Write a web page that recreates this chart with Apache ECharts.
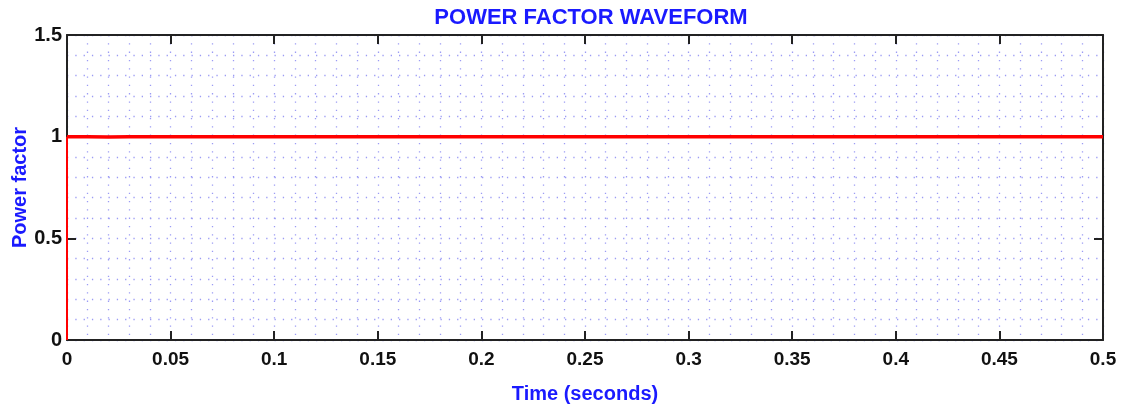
<!DOCTYPE html>
<html><head><meta charset="utf-8">
<script src="https://cdn.jsdelivr.net/npm/echarts@6/dist/echarts.min.js"></script>
<style>html,body{margin:0;padding:0;background:#fff}#c{width:1126px;height:412px}</style>
</head><body><div id="c"></div>
<script>
const titleText = 'POWER FACTOR WAVEFORM';
const xName = 'Time (seconds)';
const yName = 'Power factor';
const timeValues = [0, 0, 0.01, 0.02, 0.03, 0.05, 0.1, 0.2, 0.3, 0.4, 0.5];
const pfValues   = [0, 1, 1.0, 0.998, 1.0, 1.0, 1.0, 1.0, 1.0, 1.0, 1.0];
const xMin = 0, xMax = 0.5, xStep = 0.05;
const yMin = 0, yMax = 1.5, yStep = 0.5;

const gridDot = {color: '#9c9cf4', width: 1.3, type: [1.3, 7]};
const font = {fontFamily: 'Liberation Sans, Arial, sans-serif', fontWeight: 'bold'};
const axisLn = {color: '#222', width: 2};
const chart = echarts.init(document.getElementById('c'));
function fmt(v){ return String(+v.toFixed(2)); }
const pts = timeValues.map((t, i) => [t, pfValues[i]]);
chart.setOption({
  animation: false,
  title: {text: titleText, left: 586, top: 2, textAlign: 'center',
    textStyle: Object.assign({color: '#1a1aff', fontSize: 22, letterSpacing: -0.5}, font)},
  grid: {left: 67, right: 23, top: 35, bottom: 72, outerBoundsMode: 'none', containLabel: false},
  xAxis: [{
    type: 'value', min: xMin, max: xMax, interval: xStep,
    name: xName, nameLocation: 'middle', nameGap: 44,
    nameTextStyle: Object.assign({color: '#1a1aff', fontSize: 20, letterSpacing: 0.3}, font),
    axisLine: {onZero: false, lineStyle: axisLn},
    axisTick: {inside: true, length: 9, lineStyle: axisLn},
    axisLabel: Object.assign({color: '#111', fontSize: 19, margin: 10, formatter: fmt}, font),
    splitLine: {show: true, lineStyle: gridDot},
    minorTick: {show: true, splitNumber: 5, length: 0},
    minorSplitLine: {show: true, lineStyle: gridDot}
  }, {
    type: 'value', position: 'top', min: xMin, max: xMax, interval: xStep,
    axisLine: {show: true, onZero: false, lineStyle: axisLn},
    axisTick: {show: true, inside: true, length: 9, lineStyle: axisLn},
    axisLabel: {show: false}, splitLine: {show: false}
  }],
  yAxis: [{
    type: 'value', min: yMin, max: yMax, interval: yStep,
    name: yName, nameLocation: 'middle', nameGap: 37, nameRotate: 90, nameMoveOverlap: false,
    nameTextStyle: Object.assign({color: '#1a1aff', fontSize: 20, letterSpacing: 0.5}, font),
    axisLine: {show: true, onZero: false, lineStyle: axisLn},
    axisTick: {show: true, inside: true, length: 9, lineStyle: axisLn},
    axisLabel: Object.assign({color: '#111', fontSize: 20, margin: 5, formatter: fmt}, font),
    splitLine: {show: true, lineStyle: gridDot},
    minorTick: {show: true, splitNumber: 5, length: 0},
    minorSplitLine: {show: true, lineStyle: gridDot}
  }, {
    type: 'value', position: 'right', min: yMin, max: yMax, interval: yStep,
    axisLine: {show: true, onZero: false, lineStyle: axisLn},
    axisTick: {show: true, inside: true, length: 9, lineStyle: axisLn},
    axisLabel: {show: false}, splitLine: {show: false}
  }],
  series: [{
    type: 'line', showSymbol: false, symbol: 'none',
    data: pts.slice(0, 2),
    lineStyle: {color: '#ff0000', width: 2}, z: 5
  }, {
    type: 'line', showSymbol: false, symbol: 'none',
    data: pts.slice(1),
    lineStyle: {color: '#ff0000', width: 3.5}, z: 5
  }]
});
</script></body></html>
